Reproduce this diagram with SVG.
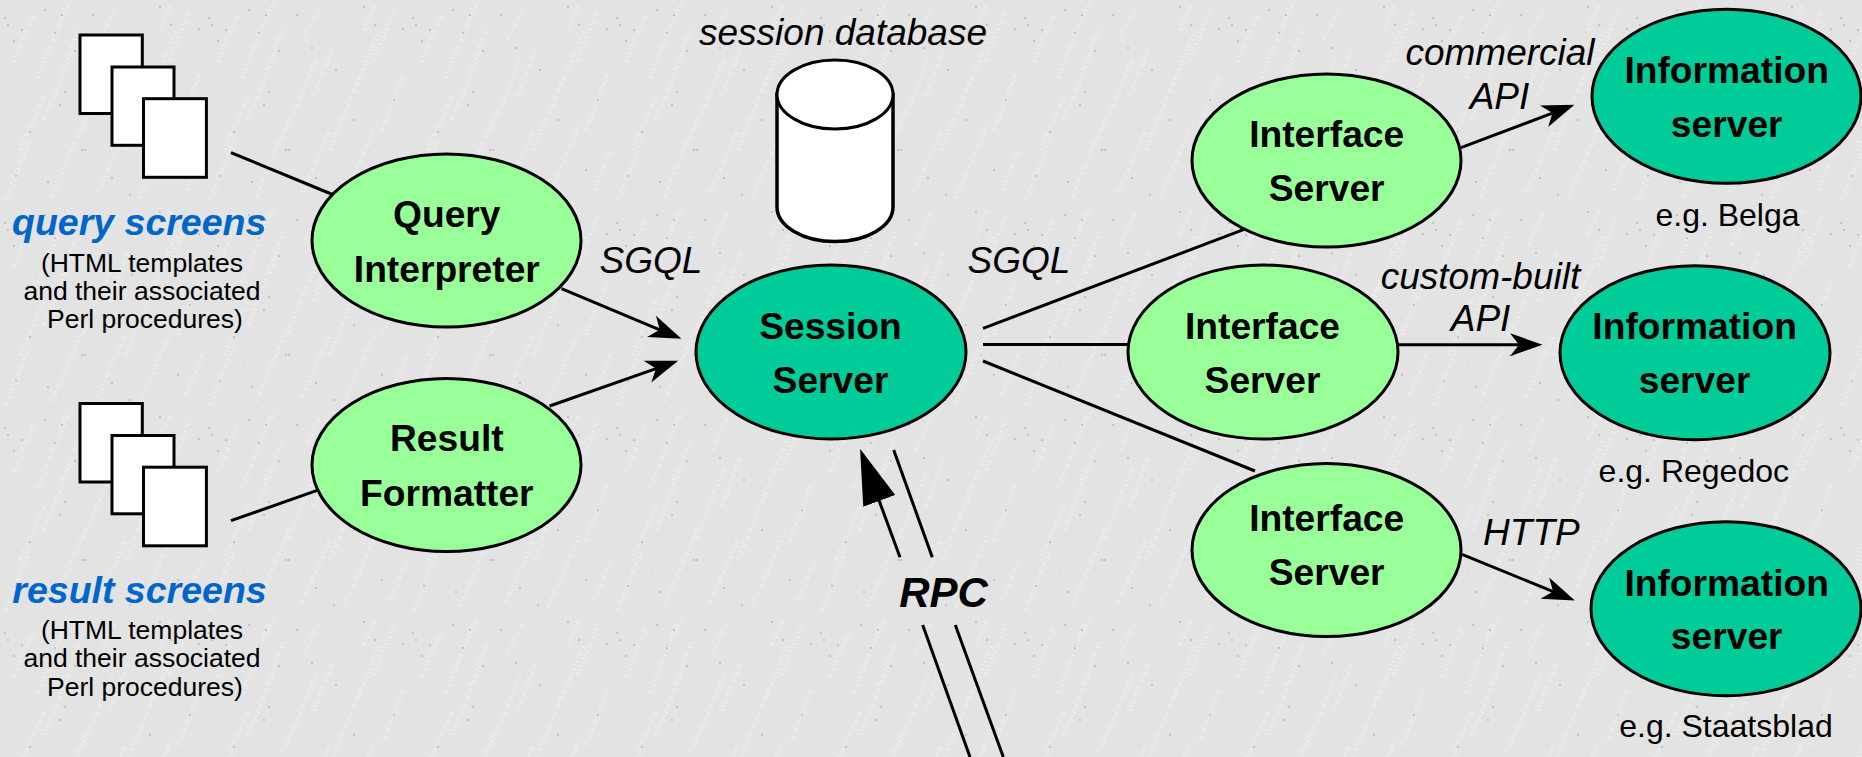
<svg xmlns="http://www.w3.org/2000/svg" width="1862" height="757" viewBox="0 0 1862 757">
<style>
text{font-family:"Liberation Sans",Arial,sans-serif;fill:#000;text-anchor:middle}
.n{font-size:37.2px;font-weight:700}
.i{font-size:37px;font-style:italic}
.s{font-size:26.5px}
.e{font-size:32px}
.h{font-size:37.5px;font-weight:700;font-style:italic;fill:#0066cc}
.lt{fill:#9f9;stroke:#000;stroke-width:3}
.dk{fill:#00cc99;stroke:#000;stroke-width:3}
.pg{fill:#fff;stroke:#000;stroke-width:3}
.c{fill:none;stroke:#000;stroke-width:3}
.a{marker-end:url(#head)}
.st{stroke:#ebebeb;stroke-width:5;stroke-dasharray:2 3 1 2;fill:none}
</style>
<defs>
<marker id="head" markerUnits="userSpaceOnUse" markerWidth="34" markerHeight="26" viewBox="0 -13 34 26" refX="9" refY="0" orient="auto"><path d="M32.5 0L0-11.5 9 0 0 11.5Z" fill="#000"/></marker>
<marker id="big" markerUnits="userSpaceOnUse" markerWidth="58" markerHeight="38" viewBox="0 -19 58 38" refX="1" refY="0" orient="auto"><path d="M55.5 0L0-17V17Z" fill="#000"/></marker>
<pattern id="bg" patternUnits="userSpaceOnUse" width="204" height="205">
<rect width="204" height="205" fill="#e3e3e3"/>
<path class="st" d="M14 62L34 14M38 78L66 8M62 70L80 26M44 120L72 52M20 150L46 92M84 128L112 60M110 96L128 48M100 40L116 6M126 150L156 76M150 92L176 30M170 60L190 10M178 130L200 74M6 200L30 140M52 196L86 118M98 192L126 130M140 198L172 124M186 190L203 150M60 22L72 0M160 30L172 4"/>
<g fill="#bdbdbd"><circle cx="45" cy="10" r="1.1"/><circle cx="62" cy="15" r="1.1"/><circle cx="93" cy="15" r="1.1"/><circle cx="5" cy="18" r="1.1"/><circle cx="8" cy="25" r="1.1"/><circle cx="22" cy="30" r="1.1"/><circle cx="55" cy="33" r="1.1"/><circle cx="14" cy="41" r="1.1"/><circle cx="75" cy="51" r="1.1"/><circle cx="65" cy="92" r="1.1"/><circle cx="60" cy="105" r="1.1"/><circle cx="160" cy="7" r="1.1"/><circle cx="171" cy="25" r="1.1"/><circle cx="199" cy="29" r="1.1"/><circle cx="108" cy="48" r="1.1"/><circle cx="132" cy="70" r="1.1"/><circle cx="82" cy="150" r="1.1"/><circle cx="85" cy="150" r="1.1"/><circle cx="30" cy="132" r="1.1"/><circle cx="150" cy="120" r="1.1"/><circle cx="178" cy="170" r="1.1"/><circle cx="112" cy="178" r="1.1"/><circle cx="48" cy="182" r="1.1"/><circle cx="190" cy="100" r="1.1"/><circle cx="130" cy="195" r="1.1"/><circle cx="16" cy="176" r="1.1"/></g>
<g fill="#cfe6cf"><circle cx="11" cy="35" r="1.2"/><circle cx="190" cy="17" r="1.2"/><circle cx="120" cy="130" r="1.2"/><circle cx="40" cy="160" r="1.2"/><circle cx="165" cy="150" r="1.2"/></g>
</pattern>
</defs>
<rect width="1862" height="757" fill="url(#bg)"/>
<g id="connectors">
<path class="c" d="M231 152.7L335 195.5"/>
<path class="c a" d="M561.5 288.7L659.8 329.8"/>
<path class="c" d="M231 520.7L320 489.4"/>
<path class="c a" d="M549.6 406L656 368.6"/>
<path class="c" d="M983 328.3L1260 223.4"/>
<path class="c" d="M983 344.5H1132"/>
<path class="c" d="M983 361L1255 471"/>
<path class="c a" d="M1461 147.7L1552.5 113.1"/>
<path class="c a" d="M1397 344.7H1519"/>
<path class="c a" d="M1462 554.3L1553.1 591.6"/>
<path class="c" style="marker-end:url(#big)" d="M900 557.3L878.9 500"/>
<path class="c" d="M893.7 450L932.3 557.3"/>
<path class="c" d="M922.7 625L970 757"/>
<path class="c" d="M955.3 625L1003.3 757"/>
</g>
<g id="query-screens">
<rect class="pg" x="80" y="35" width="62.3" height="78.5"/>
<rect class="pg" x="112" y="67" width="62" height="78.3"/>
<rect class="pg" x="143.5" y="98.7" width="62.9" height="78.6"/>
<text class="h" x="139.2" y="234.5">query screens</text>
<text class="s" x="142" y="272">(HTML templates</text>
<text class="s" x="142" y="300">and their associated</text>
<text class="s" x="145" y="328">Perl procedures)</text>
</g>
<g id="result-screens">
<rect class="pg" x="80" y="403.5" width="62.3" height="78.5"/>
<rect class="pg" x="112" y="435.5" width="62" height="78.3"/>
<rect class="pg" x="143.5" y="467.2" width="62.9" height="78.6"/>
<text class="h" x="139.5" y="603">result screens</text>
<text class="s" x="142" y="639.3">(HTML templates</text>
<text class="s" x="142" y="667.3">and their associated</text>
<text class="s" x="145" y="696">Perl procedures)</text>
</g>
<g id="session-database">
<path d="M777 94.5V207A58 34.5 0 0 0 893 207V94.5Z" fill="#fff" stroke="#000" stroke-width="3.5"/>
<ellipse cx="835" cy="94.5" rx="58" ry="34.5" fill="#fff" stroke="#000" stroke-width="3"/>
<text class="i" x="843" y="44.5">session database</text>
</g>
<g id="query-interpreter"><ellipse class="lt" cx="446.5" cy="240.5" rx="134.5" ry="86.5"/><text class="n" x="446.8" y="227">Query</text><text class="n" x="446.8" y="281.5">Interpreter</text></g>
<g id="result-formatter"><ellipse class="lt" cx="446.5" cy="465" rx="134.5" ry="86.5"/><text class="n" x="446.8" y="451">Result</text><text class="n" x="446.8" y="505.5">Formatter</text></g>
<g id="session-server"><ellipse class="dk" cx="831" cy="352" rx="135" ry="87"/><text class="n" x="830.5" y="339">Session</text><text class="n" x="830.5" y="393">Server</text></g>
<g id="interface-server-1"><ellipse class="lt" cx="1326.5" cy="160.5" rx="134.5" ry="86.5"/><text class="n" x="1326.7" y="147">Interface</text><text class="n" x="1326.7" y="201">Server</text></g>
<g id="interface-server-2"><ellipse class="lt" cx="1263" cy="352" rx="135" ry="87"/><text class="n" x="1262.5" y="339">Interface</text><text class="n" x="1262.5" y="393">Server</text></g>
<g id="interface-server-3"><ellipse class="lt" cx="1326.5" cy="550" rx="134.5" ry="86.5"/><text class="n" x="1326.7" y="531">Interface</text><text class="n" x="1326.7" y="585">Server</text></g>
<g id="information-server-1"><ellipse class="dk" cx="1726.5" cy="96.3" rx="134.5" ry="87"/><text class="n" x="1726.7" y="83">Information</text><text class="n" x="1726.7" y="137">server</text><text class="e" x="1727.5" y="226">e.g. Belga</text></g>
<g id="information-server-2"><ellipse class="dk" cx="1695" cy="352.7" rx="135" ry="87"/><text class="n" x="1694.6" y="339">Information</text><text class="n" x="1694.6" y="393">server</text><text class="e" x="1693.8" y="481.7">e.g. Regedoc</text></g>
<g id="information-server-3"><ellipse class="dk" cx="1726" cy="608.7" rx="135" ry="87"/><text class="n" x="1726.7" y="595.5">Information</text><text class="n" x="1726.7" y="649">server</text><text class="e" x="1726" y="737.3">e.g. Staatsblad</text></g>
<g id="labels">
<text class="i" x="651" y="273">SGQL</text>
<text class="i" x="1019" y="273">SGQL</text>
<text class="i" x="1500" y="65">commercial</text>
<text class="i" x="1499.5" y="108.5">API</text>
<text class="i" x="1480.5" y="289">custom-built</text>
<text class="i" x="1480.6" y="331">API</text>
<text class="i" x="1531.4" y="545">HTTP</text>
<text class="i" style="font-size:42px;font-weight:700" x="943.5" y="606.5">RPC</text>
</g>
</svg>
